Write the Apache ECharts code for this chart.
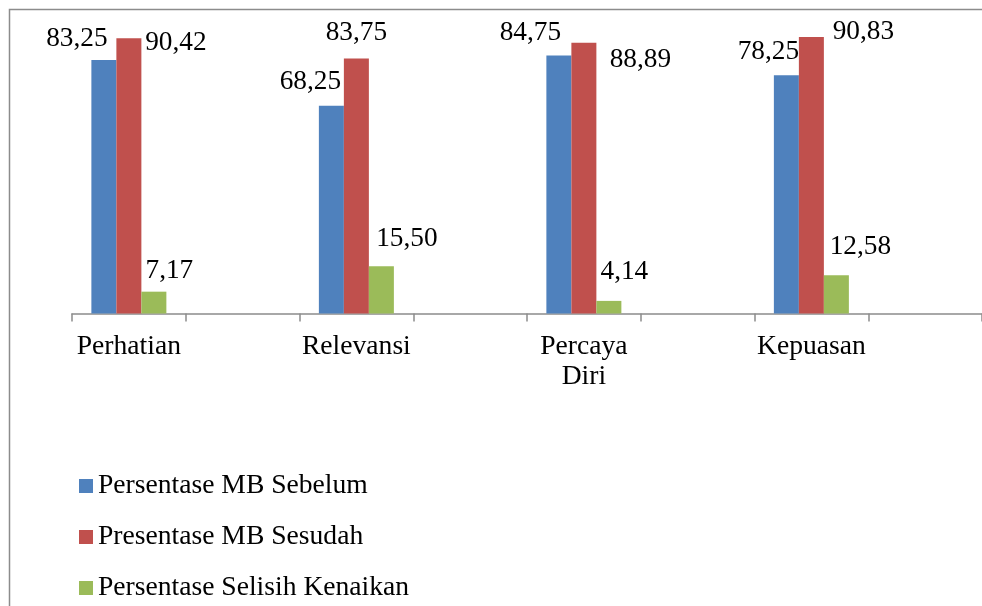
<!DOCTYPE html>
<html>
<head>
<meta charset="utf-8">
<script src="https://cdn.jsdelivr.net/npm/echarts@6/dist/echarts.min.js"></script>
<style>
html,body{margin:0;padding:0;background:#fff;}
#chart{width:982px;height:606px;}
</style>
</head>
<body>
<div id="chart"></div>
<script>
// ---- data ----
var categories = ['Perhatian', 'Relevansi', 'Percaya\nDiri', 'Kepuasan'];
var seriesNames = ['Persentase MB Sebelum', 'Presentase MB Sesudah', 'Persentase Selisih Kenaikan'];
var sebelum = [83.25, 68.25, 84.75, 78.25];
var sesudah = [90.42, 83.75, 88.89, 90.83];
var selisih = [7.17, 15.50, 4.14, 12.58];

// ---- label placement (layout only, [dx, dy]) ----
var offsSebelum = [[-27, -2.5], [-21, -5.5], [-28.5, -4.5], [-18, -4.5]];
var offsSesudah = [[47, 23.5], [0, -7.5], [56.5, 35.5], [52, 13.5]];
var offsSelisih = [[15.5, -2.5], [25.5, -8.5], [15.5, -10.5], [24, -9.5]];

var colors = ['#4F81BD', '#C0504D', '#9BBB59'];
var serif = 'Liberation Serif';

// The original axis has an empty slot after each category
var axisCats = [];
categories.forEach(function (c) { axisCats.push(c); axisCats.push(''); });

function fmt(v) { return v.toFixed(2).replace('.', ','); }

function build(values, offs) {
  var out = [];
  values.forEach(function (v, i) {
    out.push({
      value: v,
      label: { offset: offs[i] }
    });
    out.push(null);
  });
  return out;
}

var allValues = [sebelum, sesudah, selisih];
var allOffs = [offsSebelum, offsSesudah, offsSelisih];

var series = seriesNames.map(function (name, k) {
  return {
    name: name,
    type: 'bar',
    barWidth: 25,
    barGap: '0%',
    itemStyle: { color: colors[k] },
    emphasis: { disabled: true },
    label: {
      show: true,
      position: 'top',
      distance: 5,
      fontFamily: serif,
      fontSize: 27.3,
      lineHeight: 27,
      color: '#000',
      formatter: function (p) { return fmt(p.value); }
    },
    data: build(allValues[k], allOffs[k])
  };
});

var chart = echarts.init(document.getElementById('chart'), null, { renderer: 'canvas' });
chart.setOption({
  animation: false,
  backgroundColor: '#fff',
  grid: { left: 72, top: 9, width: 914, height: 304.5, containLabel: false },
  xAxis: {
    type: 'category',
    data: axisCats,
    axisLine: { lineStyle: { color: '#8c8c8c', width: 1.5 } },
    axisTick: { show: true, alignWithLabel: false, interval: 0, length: 8, lineStyle: { color: '#8c8c8c', width: 1.5 } },
    axisLabel: {
      interval: 0,
      margin: 18,
      fontFamily: serif,
      fontSize: 27.6,
      lineHeight: 30,
      color: '#000'
    }
  },
  yAxis: {
    type: 'value',
    min: 0,
    max: 100,
    show: false,
    splitLine: { show: false }
  },
  legend: {
    orient: 'vertical',
    left: 79,
    top: 472,
    height: 300,
    icon: 'rect',
    itemWidth: 14,
    itemHeight: 14,
    itemGap: 23,
    padding: 0,
    selectedMode: false,
    textStyle: { fontFamily: serif, fontSize: 27.6, lineHeight: 27, color: '#000' },
    data: seriesNames
  },
  graphic: [{
    type: 'rect',
    silent: true,
    shape: { x: 9.5, y: 9.5, width: 1200, height: 1200 },
    style: { fill: 'none', stroke: '#8c8c8c', lineWidth: 1.5 }
  }],
  series: series
});
</script>
</body>
</html>
